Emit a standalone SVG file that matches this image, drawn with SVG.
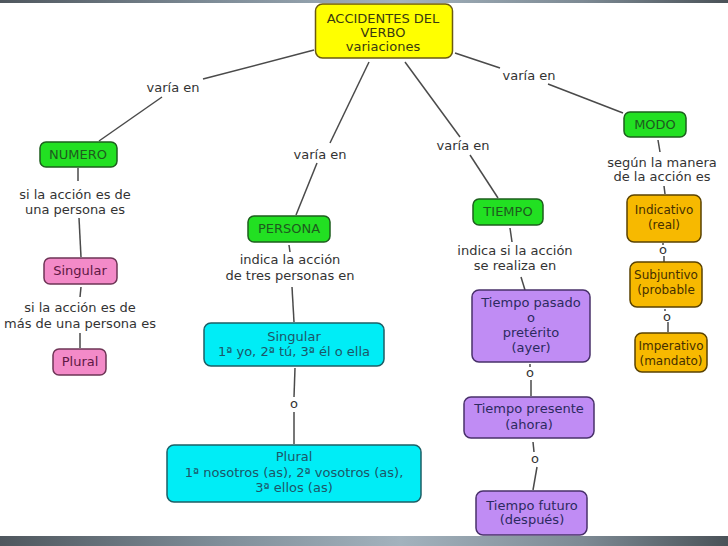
<svg xmlns="http://www.w3.org/2000/svg" width="728" height="546" viewBox="0 0 728 546">
<defs>
<linearGradient id="bar" x1="0" y1="0" x2="1" y2="0">
<stop offset="0" stop-color="#4f575e"/>
<stop offset="0.3" stop-color="#7f8d98"/>
<stop offset="0.55" stop-color="#a3b2bd"/>
<stop offset="0.8" stop-color="#7d8a94"/>
<stop offset="1" stop-color="#4a5258"/>
</linearGradient>
<style>
text{font-family:"DejaVu Sans",Verdana,sans-serif;font-size:13px;text-anchor:middle}
.lbl{fill:#333333}
.ln{stroke:#4a4a4a;stroke-width:1.5;fill:none}
.box{stroke-width:1.5}
.y{fill:#ffff00;stroke:#6b5a10}
.yt{fill:#3a3a10}
.g{fill:#22e022;stroke:#1d5e1d}
.gt{fill:#1e5a1e}
.p{fill:#f38ac8;stroke:#6e3556}
.pt{fill:#5e1844}
.c{fill:#00edf6;stroke:#1c5f66}
.ct{fill:#1d5668}
.v{fill:#c08cf4;stroke:#48306a}
.vt{fill:#2c2a60}
.o{fill:#f7b900;stroke:#5a4200}
.ot{fill:#452f00;font-size:12px}
</style>
</defs>
<rect x="0" y="0" width="728" height="546" fill="#ffffff"/>
<rect x="0" y="0" width="728" height="3" fill="url(#bar)"/>
<rect x="0" y="536" width="728" height="10" fill="url(#bar)"/>

<g id="connectors">
<line class="ln" x1="314" y1="50" x2="203" y2="79"/>
<line class="ln" x1="162" y1="97" x2="99" y2="141"/>
<line class="ln" x1="78" y1="168" x2="78" y2="181"/>
<line class="ln" x1="79" y1="218" x2="81" y2="257"/>
<line class="ln" x1="81" y1="287" x2="80" y2="297"/>
<line class="ln" x1="80" y1="333" x2="80" y2="348"/>
<line class="ln" x1="369" y1="62" x2="330" y2="143"/>
<line class="ln" x1="317" y1="163" x2="296" y2="215"/>
<line class="ln" x1="289" y1="245" x2="290" y2="252"/>
<line class="ln" x1="292" y1="287" x2="294" y2="322"/>
<line class="ln" x1="295" y1="368" x2="294" y2="397"/>
<line class="ln" x1="294" y1="412" x2="294" y2="444"/>
<line class="ln" x1="405" y1="62" x2="460" y2="137"/>
<line class="ln" x1="470" y1="155" x2="498" y2="198"/>
<line class="ln" x1="510" y1="228" x2="512" y2="242"/>
<line class="ln" x1="521" y1="277" x2="525" y2="290"/>
<line class="ln" x1="530" y1="364" x2="530" y2="367"/>
<line class="ln" x1="531" y1="380" x2="531" y2="396"/>
<line class="ln" x1="533" y1="442" x2="534" y2="452"/>
<line class="ln" x1="537" y1="467" x2="533" y2="490"/>
<line class="ln" x1="455" y1="53" x2="500" y2="68"/>
<line class="ln" x1="548" y1="84" x2="623" y2="113"/>
<line class="ln" x1="658" y1="140" x2="660" y2="152"/>
<line class="ln" x1="664" y1="186" x2="665" y2="194"/>
<line class="ln" x1="663" y1="243" x2="663" y2="245"/>
<line class="ln" x1="664" y1="256" x2="664" y2="262"/>
<line class="ln" x1="665" y1="309" x2="665" y2="311"/>
<line class="ln" x1="668" y1="322" x2="668" y2="332"/>
<g id="link-labels">
<text class="lbl" x="173" y="92">varía en</text>
<text class="lbl" x="320" y="159">varía en</text>
<text class="lbl" x="463" y="150">varía en</text>
<text class="lbl" x="529" y="80">varía en</text>
<text class="lbl" x="75" y="199">si la acción es de</text>
<text class="lbl" x="75" y="214">una persona es</text>
<text class="lbl" x="80" y="312">si la acción es de</text>
<text class="lbl" x="80" y="328">más de una persona es</text>
<text class="lbl" x="290" y="264">indica la acción</text>
<text class="lbl" x="290" y="280">de tres personas en</text>
<text class="lbl" x="294" y="408">o</text>
<text class="lbl" x="515" y="255">indica si la acción</text>
<text class="lbl" x="515" y="270">se realiza en</text>
<text class="lbl" x="530" y="377">o</text>
<text class="lbl" x="535" y="463">o</text>
<text class="lbl" x="662" y="167">según la manera</text>
<text class="lbl" x="662" y="181">de la acción es</text>
<text class="lbl" x="663" y="254">o</text>
<text class="lbl" x="667" y="321">o</text>
</g>
</g>

<g id="accidentes">
<rect class="box y" x="315.5" y="4" width="137" height="54" rx="7"/>
<text class="yt" x="383" y="23">ACCIDENTES DEL</text>
<text class="yt" x="383" y="37">VERBO</text>
<text class="yt" x="383" y="51">variaciones</text>
</g>

<g id="numero">
<rect class="box g" x="40" y="142" width="77" height="25" rx="6"/>
<text class="gt" x="78" y="159">NUMERO</text>
</g>
<g id="singular-n">
<rect class="box p" x="44" y="258" width="73" height="26" rx="6"/>
<text class="pt" x="80" y="275">Singular</text>
</g>
<g id="plural-n">
<rect class="box p" x="53" y="349" width="53" height="26" rx="6"/>
<text class="pt" x="80" y="366">Plural</text>
</g>

<g id="persona">
<rect class="box g" x="248" y="216" width="82" height="26" rx="6"/>
<text class="gt" x="289" y="233">PERSONA</text>
</g>
<g id="singular-p">
<rect class="box c" x="204" y="323" width="180" height="43" rx="7"/>
<text class="ct" x="294" y="341">Singular</text>
<text class="ct" x="294" y="356">1ª yo, 2ª tú, 3ª él o ella</text>
</g>
<g id="plural-p">
<rect class="box c" x="167" y="445" width="254" height="57" rx="7"/>
<text class="ct" x="294" y="461">Plural</text>
<text class="ct" x="294" y="477">1ª nosotros (as), 2ª vosotros (as),</text>
<text class="ct" x="294" y="492">3ª ellos (as)</text>
</g>

<g id="tiempo">
<rect class="box g" x="473" y="199" width="70" height="26" rx="6"/>
<text class="gt" x="508" y="216">TIEMPO</text>
</g>
<g id="pasado">
<rect class="box v" x="472" y="290" width="118" height="72" rx="7"/>
<text class="vt" x="531" y="307">Tiempo pasado</text>
<text class="vt" x="531" y="322">o</text>
<text class="vt" x="531" y="337">pretérito</text>
<text class="vt" x="531" y="352">(ayer)</text>
</g>
<g id="presente">
<rect class="box v" x="464" y="397" width="130" height="41" rx="7"/>
<text class="vt" x="529" y="413">Tiempo presente</text>
<text class="vt" x="529" y="429">(ahora)</text>
</g>
<g id="futuro">
<rect class="box v" x="476" y="491" width="111" height="44" rx="7"/>
<text class="vt" x="532" y="510">Tiempo futuro</text>
<text class="vt" x="532" y="524">(después)</text>
</g>

<g id="modo">
<rect class="box g" x="624" y="112" width="62" height="25" rx="6"/>
<text class="gt" x="655" y="129">MODO</text>
</g>
<g id="indicativo">
<rect class="box o" x="627" y="195" width="74" height="47" rx="7"/>
<text class="ot" x="664" y="214">Indicativo</text>
<text class="ot" x="664" y="229">(real)</text>
</g>
<g id="subjuntivo">
<rect class="box o" x="630" y="262" width="72" height="45" rx="7"/>
<text class="ot" x="666" y="279">Subjuntivo</text>
<text class="ot" x="666" y="294">(probable</text>
</g>
<g id="imperativo">
<rect class="box o" x="635" y="333" width="72" height="39" rx="7"/>
<text class="ot" x="671" y="350">Imperativo</text>
<text class="ot" x="671" y="365">(mandato)</text>
</g>
</svg>
